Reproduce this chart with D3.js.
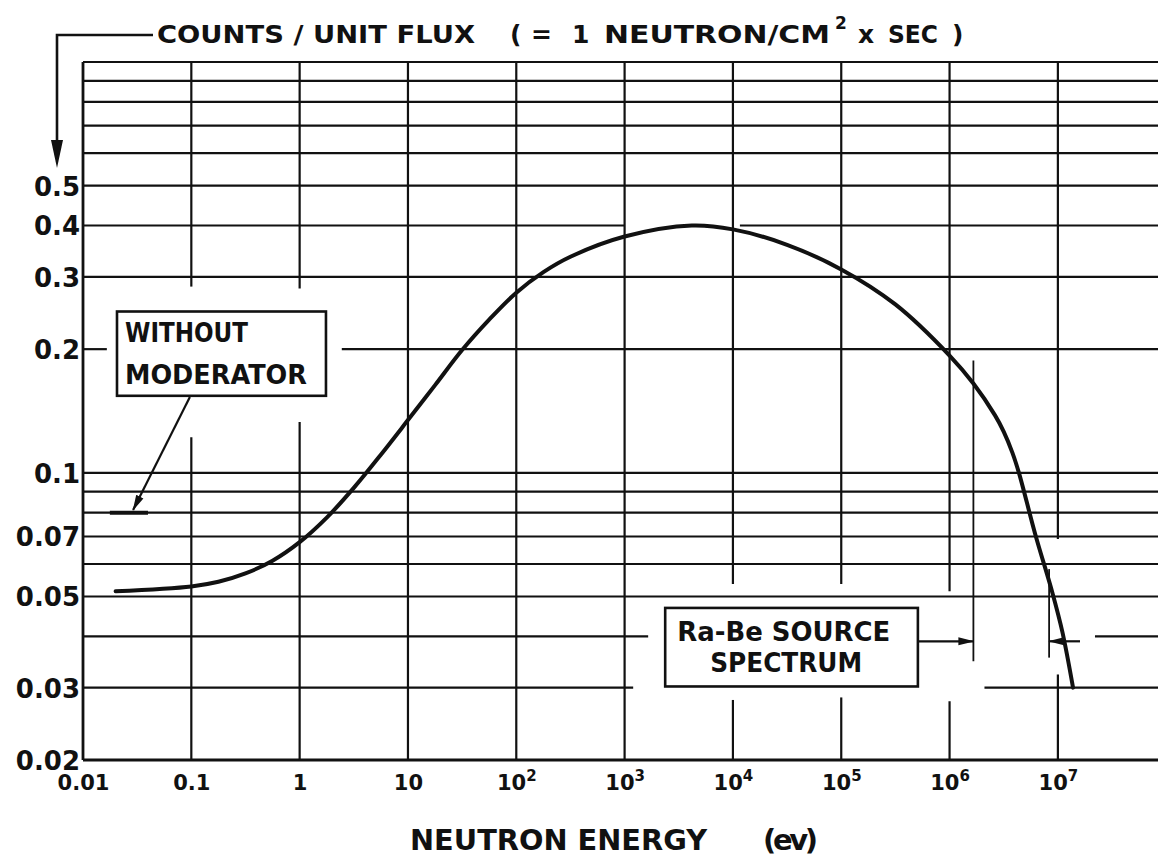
<!DOCTYPE html>
<html>
<head>
<meta charset="utf-8">
<title>Counts per unit flux vs neutron energy</title>
<script src="https://cdnjs.cloudflare.com/ajax/libs/d3/7.8.5/d3.min.js"></script>
<style>
body { margin: 0; background: #fff; }
svg { display: block; background: #fff; }
.grid { stroke: #111; stroke-width: 2.2; fill: none; }
.frame { stroke: #111; stroke-width: 2.8; fill: none; }
.lbl { font-family: "DejaVu Sans", sans-serif; font-weight: bold; fill: #111; }
</style>
</head>
<body>
<svg width="1158" height="856"></svg>
<script>
// curve (energy in eV, counts per unit flux)
var energy = [0.02, 0.1, 0.178, 0.316, 0.562, 1, 1.78, 3.16, 5.62, 10, 17.8, 31.6, 56.2, 100, 178, 316,
              1000, 4170, 1e4, 3.16e4, 1e5, 3.16e5, 1e6, 1.66e6, 2.63e6, 3.16e6, 3.8e6, 4.37e6,
              6.17e6, 8.91e6, 1.1e7, 1.38e7];
var counts = [0.0515, 0.0529, 0.0543, 0.0569, 0.0611, 0.0678, 0.0778, 0.0919, 0.1107, 0.1344, 0.1635, 0.199, 0.236, 0.2745, 0.308, 0.3357,
              0.376, 0.400, 0.3914, 0.359, 0.3127, 0.257, 0.193, 0.165, 0.138, 0.126, 0.112, 0.100,
              0.071, 0.051, 0.041, 0.030];

// ticks
var xTicks = [0.01, 0.1, 1, 10, 100, 1e3, 1e4, 1e5, 1e6, 1e7];
var xTickBase = ["0.01", "0.1", "1", "10", "10", "10", "10", "10", "10", "10"];
var xTickExp = ["", "", "", "", "2", "3", "4", "5", "6", "7"];
var yTicks = [0.5, 0.4, 0.3, 0.2, 0.1, 0.07, 0.05, 0.03, 0.02];
var yTickText = ["0.5", "0.4", "0.3", "0.2", "0.1", "0.07", "0.05", "0.03", "0.02"];

// grid lines of the log paper, with the breaks left by the hand drafting
var hLines = [0.02, 0.03, 0.04, 0.05, 0.06, 0.07, 0.08, 0.09, 0.1, 0.2, 0.3, 0.4, 0.5, 0.6, 0.7, 0.8, 0.9, 1.0];
var vLines = [0.01, 0.1, 1, 10, 100, 1e3, 1e4, 1e5, 1e6, 1e7];
var hGaps = [[0.4, 1000, 11600], [0.2, 0.0166, 2.45], [0.04, 1650, 2.2e7], [0.03, 1200, 2.1e6]];
var vGaps = [[0.1, 0.122, 0.284], [1, 0.133, 0.281], [1e4, 0.028, 0.0536], [1e5, 0.0284, 0.0536],
             [1e6, 0.0278, 0.0515], [1e7, 0.0323, 0.069]];

// Ra-Be source spectrum limits
var sourceLimits = [1.66e6, 8.3e6];

var svg = d3.select("svg");

var x = d3.scaleLog().domain([0.01, 8.4e7]).range([83, 1158]);
var y = d3.scaleLog().domain([0.02, 1]).range([760, 62]);

var defs = svg.append("defs");
defs.append("marker")
  .attr("id", "head")
  .attr("viewBox", "0 0 16 10")
  .attr("refX", 15).attr("refY", 5)
  .attr("markerWidth", 16).attr("markerHeight", 10)
  .attr("markerUnits", "userSpaceOnUse")
  .attr("orient", "auto")
  .append("path").attr("d", "M0,1 L16,5 L0,9 Z").attr("fill", "#111");

function split(lo, hi, gaps) {
  var segs = [], start = lo;
  gaps.sort(function (a, b) { return a[0] - b[0]; }).forEach(function (g) {
    segs.push([start, g[0]]);
    start = g[1];
  });
  segs.push([start, hi]);
  return segs;
}

var grid = svg.append("g");
hLines.forEach(function (v) {
  var gaps = hGaps.filter(function (g) { return g[0] === v; }).map(function (g) { return [g[1], g[2]]; });
  split(x.domain()[0], x.domain()[1], gaps).forEach(function (s) {
    grid.append("line").attr("class", v === 0.02 ? "frame" : "grid")
      .attr("x1", x(s[0])).attr("x2", x(s[1]))
      .attr("y1", y(v)).attr("y2", y(v));
  });
});
vLines.forEach(function (e) {
  var gaps = vGaps.filter(function (g) { return g[0] === e; }).map(function (g) { return [g[1], g[2]]; });
  split(y.domain()[0], y.domain()[1], gaps).forEach(function (s) {
    grid.append("line").attr("class", e === 0.01 ? "frame" : "grid")
      .attr("x1", x(e)).attr("x2", x(e))
      .attr("y1", y(s[0])).attr("y2", y(s[1]));
  });
});

// axes (labels only, the paper lines are the grid)
var yAxis = svg.append("g")
  .attr("transform", "translate(" + x(0.01) + ",0)")
  .call(d3.axisLeft(y).tickValues(yTicks).tickSize(0).tickPadding(3)
    .tickFormat(function (d, i) { return yTickText[i]; }));
yAxis.select(".domain").remove();
yAxis.selectAll("text").attr("class", "lbl").attr("font-size", 26).attr("dy", "0.36em");

var xAxis = svg.append("g")
  .attr("transform", "translate(0," + y(0.02) + ")")
  .call(d3.axisBottom(x).tickValues(xTicks).tickSize(0).tickPadding(15).tickFormat(""));
xAxis.select(".domain").remove();
xAxis.selectAll("text").each(function (d, i) {
  var t = d3.select(this).attr("class", "lbl").attr("font-size", 21).text(null);
  t.append("tspan").text(xTickBase[i]);
  if (xTickExp[i]) t.append("tspan").attr("dy", -9).attr("font-size", 15).text(xTickExp[i]);
});

// the response curve
var line = d3.line()
  .x(function (d) { return x(d[0]); })
  .y(function (d) { return y(d[1]); })
  .curve(d3.curveCatmullRom.alpha(0.5));
svg.append("path")
  .datum(energy.map(function (e, i) { return [e, counts[i]]; }))
  .attr("d", line)
  .attr("fill", "none").attr("stroke", "#111").attr("stroke-width", 4)
  .attr("stroke-linecap", "round");

// title along the top with its arrow down to the y axis
var titleParts = [
  { t: "COUNTS / UNIT FLUX", x: 157, w: 318 },
  { t: "(", x: 510 }, { t: "=", x: 531 }, { t: "1", x: 572 },
  { t: "NEUTRON/CM", x: 604, w: 226 },
  { t: "x", x: 858 }, { t: "SEC", x: 888, w: 50 }, { t: ")", x: 952 }
];
titleParts.forEach(function (p) {
  var t = svg.append("text").attr("class", "lbl").attr("font-size", 25)
    .attr("x", p.x).attr("y", 43).text(p.t);
  if (p.w) t.attr("textLength", p.w).attr("lengthAdjust", "spacingAndGlyphs");
});
svg.append("text").attr("class", "lbl").attr("font-size", 17)
  .attr("x", 835).attr("y", 29).text("2");
svg.append("path").attr("d", "M153,35 H57 V150").attr("fill", "none")
  .attr("stroke", "#111").attr("stroke-width", 2.6);
svg.append("path").attr("d", "M51,140 L63,140 L57,168 Z").attr("fill", "#111");

// x title
svg.append("text").attr("class", "lbl").attr("font-size", 29)
  .attr("x", 410).attr("y", 850).attr("textLength", 297).attr("lengthAdjust", "spacingAndGlyphs")
  .text("NEUTRON ENERGY");
svg.append("text").attr("class", "lbl").attr("font-size", 29)
  .attr("x", 763).attr("y", 850).attr("textLength", 55).attr("lengthAdjust", "spacing")
  .text("(ev)");

// "without moderator" box and its pointer to the 0.08 level
var note = svg.append("g");
note.append("rect")
  .attr("x", x(0.0206)).attr("y", y(0.247))
  .attr("width", x(1.75) - x(0.0206)).attr("height", y(0.154) - y(0.247))
  .attr("fill", "#fff").attr("stroke", "#111").attr("stroke-width", 2.6);
note.append("text").attr("class", "lbl").attr("font-size", 26)
  .attr("x", x(0.0206) + 8).attr("y", y(0.247) + 30)
  .attr("textLength", 123).attr("lengthAdjust", "spacingAndGlyphs").text("WITHOUT");
note.append("text").attr("class", "lbl").attr("font-size", 26)
  .attr("x", x(0.0206) + 8).attr("y", y(0.247) + 72)
  .attr("textLength", 182).attr("lengthAdjust", "spacingAndGlyphs").text("MODERATOR");
note.append("line")
  .attr("x1", x(0.097)).attr("y1", y(0.153))
  .attr("x2", x(0.029)).attr("y2", y(0.0812))
  .attr("stroke", "#111").attr("stroke-width", 2.2).attr("marker-end", "url(#head)");
note.append("line")
  .attr("x1", x(0.0177)).attr("x2", x(0.0398))
  .attr("y1", y(0.08)).attr("y2", y(0.08))
  .attr("stroke", "#111").attr("stroke-width", 4);

// Ra-Be source spectrum box with its two limit markers
var src = svg.append("g");
src.append("rect")
  .attr("x", x(2370)).attr("y", y(0.0469))
  .attr("width", x(5.1e5) - x(2370)).attr("height", y(0.0302) - y(0.0469))
  .attr("fill", "#fff").attr("stroke", "#111").attr("stroke-width", 2.6);
src.append("text").attr("class", "lbl").attr("font-size", 26)
  .attr("x", x(2370) + 12).attr("y", y(0.0469) + 33)
  .attr("textLength", 213).attr("lengthAdjust", "spacingAndGlyphs").text("Ra-Be SOURCE");
src.append("text").attr("class", "lbl").attr("font-size", 26)
  .attr("x", x(2370) + 45).attr("y", y(0.0469) + 64)
  .attr("textLength", 152).attr("lengthAdjust", "spacingAndGlyphs").text("SPECTRUM");
src.append("line")
  .attr("x1", x(sourceLimits[0])).attr("x2", x(sourceLimits[0]))
  .attr("y1", y(0.1876)).attr("y2", y(0.0348))
  .attr("stroke", "#111").attr("stroke-width", 1.8);
src.append("line")
  .attr("x1", x(sourceLimits[1])).attr("x2", x(sourceLimits[1]))
  .attr("y1", y(0.0583)).attr("y2", y(0.0355))
  .attr("stroke", "#111").attr("stroke-width", 1.8);
src.append("line")
  .attr("x1", x(5.1e5)).attr("x2", x(sourceLimits[0]))
  .attr("y1", y(0.0389)).attr("y2", y(0.0389))
  .attr("stroke", "#111").attr("stroke-width", 2.2).attr("marker-end", "url(#head)");
src.append("line")
  .attr("x1", x(1.6e7)).attr("x2", x(sourceLimits[1]))
  .attr("y1", y(0.0389)).attr("y2", y(0.0389))
  .attr("stroke", "#111").attr("stroke-width", 2.2).attr("marker-end", "url(#head)");
</script>
</body>
</html>
